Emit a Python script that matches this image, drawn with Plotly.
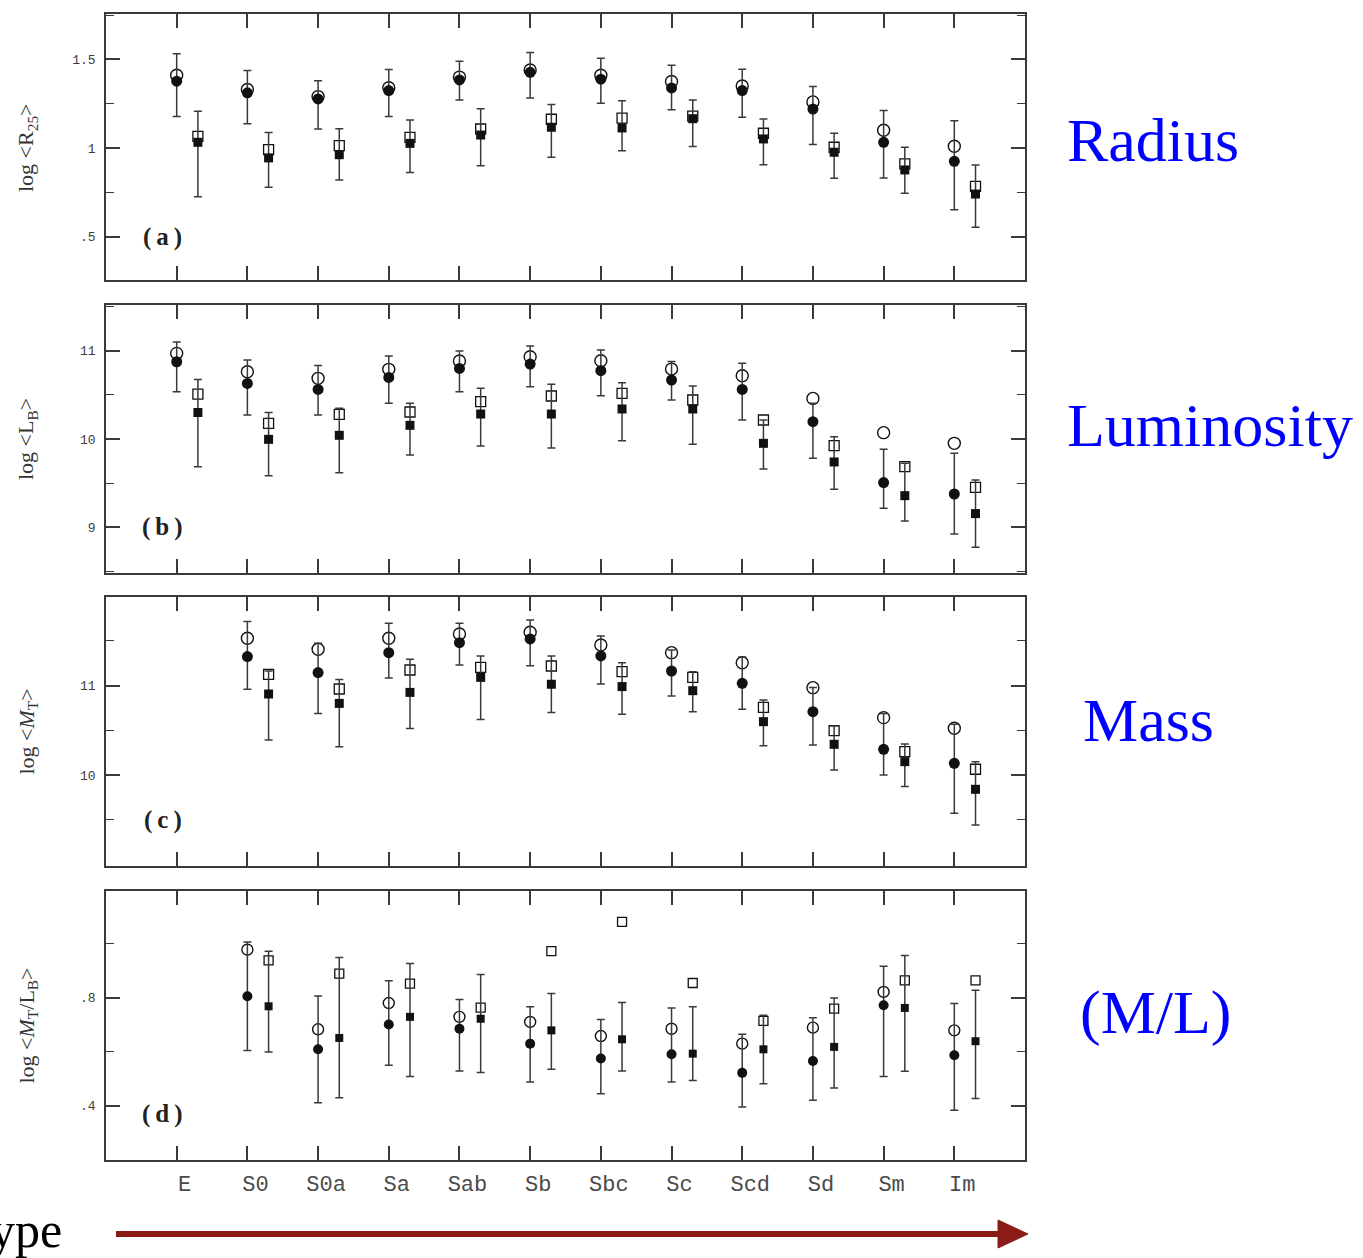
import plotly.graph_objects as go

W, H = 1363, 1258

categories = ["E", "S0", "S0a", "Sa", "Sab", "Sb", "Sbc", "Sc", "Scd", "Sd", "Sm", "Im"]

# Panel (a): log <R25>
circ_open_a = [1.41, 1.33, 1.29, 1.34, 1.40, 1.44, 1.41, 1.375, 1.35, 1.26, 1.10, 1.01]
circ_fill_a = [1.377, 1.311, 1.277, 1.324, 1.384, 1.427, 1.388, 1.339, 1.324, 1.22, 1.032, 0.925]
circ_hi_a = [1.531, 1.437, 1.38, 1.443, 1.49, 1.539, 1.507, 1.467, 1.444, 1.347, 1.211, 1.154]
circ_lo_a = [1.177, 1.136, 1.107, 1.177, 1.271, 1.282, 1.253, 1.215, 1.173, 1.019, 0.831, 0.652]
sq_open_a = [1.066, 0.991, 1.013, 1.06, 1.107, 1.162, 1.169, 1.18, 1.083, 1.004, 0.91, 0.783]
sq_fill_a = [1.032, 0.944, 0.962, 1.026, 1.073, 1.117, 1.113, 1.165, 1.051, 0.976, 0.876, 0.74]
sq_hi_a = [1.207, 1.087, 1.109, 1.158, 1.222, 1.245, 1.267, 1.271, 1.164, 1.083, 1.004, 0.904]
sq_lo_a = [0.725, 0.778, 0.819, 0.861, 0.90, 0.947, 0.985, 1.009, 0.906, 0.829, 0.744, 0.552]

# Panel (b): log <LB>
circ_open_b = [10.97, 10.762, 10.687, 10.789, 10.883, 10.932, 10.887, 10.792, 10.717, 10.46, 10.072, 9.951]
circ_fill_b = [10.875, 10.63, 10.562, 10.698, 10.80, 10.849, 10.774, 10.668, 10.562, 10.196, 9.506, 9.377]
circ_hi_b = [11.10, 10.894, 10.834, 10.94, 10.996, 11.053, 11.008, 10.879, 10.857, 10.404, 9.883, 9.838]
circ_lo_b = [10.536, 10.272, 10.272, 10.404, 10.536, 10.592, 10.49, 10.442, 10.215, 9.781, 9.215, 8.925]
sq_open_b = [10.509, 10.177, 10.279, 10.306, 10.423, 10.487, 10.517, 10.442, 10.215, 9.925, 9.687, 9.453]
sq_fill_b = [10.30, 9.996, 10.042, 10.155, 10.283, 10.283, 10.34, 10.34, 9.951, 9.74, 9.358, 9.155]
sq_hi_b = [10.675, 10.30, 10.347, 10.404, 10.574, 10.619, 10.638, 10.6, 10.215, 10.026, 9.725, 9.536]
sq_lo_b = [9.687, 9.585, 9.619, 9.819, 9.921, 9.898, 9.981, 9.94, 9.66, 9.43, 9.072, 8.774]

# Panel (c): log <MT>
circ_open_c = [None, 11.53, 11.407, 11.53, 11.578, 11.597, 11.455, 11.369, 11.257, 10.978, 10.643, 10.524]
circ_fill_c = [None, 11.325, 11.146, 11.369, 11.481, 11.522, 11.332, 11.164, 11.026, 10.71, 10.289, 10.133]
circ_hi_c = [None, 11.716, 11.474, 11.698, 11.698, 11.735, 11.555, 11.40, 11.32, 10.98, 10.69, 10.57]
circ_lo_c = [None, 10.959, 10.69, 11.086, 11.231, 11.224, 11.02, 10.885, 10.736, 10.337, 10.002, 9.574]
sq_open_c = [None, 11.127, 10.963, 11.175, 11.205, 11.22, 11.156, 11.093, 10.758, 10.497, 10.263, 10.066]
sq_fill_c = [None, 10.907, 10.802, 10.925, 11.093, 11.016, 10.99, 10.944, 10.598, 10.345, 10.151, 9.842]
sq_hi_c = [None, 11.164, 11.07, 11.295, 11.332, 11.332, 11.257, 11.156, 10.84, 10.55, 10.349, 10.151]
sq_lo_c = [None, 10.392, 10.317, 10.522, 10.623, 10.699, 10.68, 10.71, 10.33, 10.058, 9.872, 9.444]

# Panel (d): log <MT/LB>
circ_open_d = [None, 0.977, 0.683, 0.78, 0.729, 0.71, 0.658, 0.685, 0.63, 0.689, 0.821, 0.679]
circ_fill_d = [None, 0.805, 0.609, 0.701, 0.685, 0.63, 0.575, 0.591, 0.522, 0.566, 0.772, 0.587]
circ_hi_d = [None, 1.006, 0.806, 0.862, 0.793, 0.766, 0.719, 0.762, 0.665, 0.726, 0.916, 0.778]
circ_lo_d = [None, 0.605, 0.412, 0.55, 0.529, 0.488, 0.445, 0.488, 0.396, 0.421, 0.509, 0.384]
sq_open_d = [None, 0.938, 0.889, 0.852, 0.763, 0.972, 1.08, 0.854, 0.714, 0.759, 0.864, 0.864]
sq_fill_d = [None, 0.768, 0.651, 0.729, 0.722, 0.679, 0.646, 0.593, 0.609, 0.618, 0.762, 0.639]
sq_hi_d = [None, 0.971, 0.948, 0.926, 0.885, 0.815, 0.782, 0.766, 0.735, 0.799, 0.956, 0.827]
sq_lo_d = [None, 0.599, 0.43, 0.509, 0.523, 0.535, 0.529, 0.494, 0.482, 0.466, 0.528, 0.427]

panel_titles = ["log &lt;R<sub>25</sub>&gt;", "log &lt;L<sub>B</sub>&gt;",
                "log &lt;<i>M</i><sub>T</sub>&gt;", "log &lt;<i>M</i><sub>T</sub>/L<sub>B</sub>&gt;"]
panel_letters = ["(\u2009a\u2009)", "(\u2009b\u2009)", "(\u2009c\u2009)", "(\u2009d\u2009)"]
side_labels = ["Radius", "Luminosity", "Mass", "(M/L)"]

panels = [
    (circ_open_a, circ_fill_a, circ_hi_a, circ_lo_a, sq_open_a, sq_fill_a, sq_hi_a, sq_lo_a),
    (circ_open_b, circ_fill_b, circ_hi_b, circ_lo_b, sq_open_b, sq_fill_b, sq_hi_b, sq_lo_b),
    (circ_open_c, circ_fill_c, circ_hi_c, circ_lo_c, sq_open_c, sq_fill_c, sq_hi_c, sq_lo_c),
    (circ_open_d, circ_fill_d, circ_hi_d, circ_lo_d, sq_open_d, sq_fill_d, sq_hi_d, sq_lo_d),
]

# layout geometry (pixels)
x_left, x_right = 106, 1025
panel_px = [(14, 280), (305, 573), (597, 866), (891, 1160)]
y_ranges = [[0.255, 1.756], [8.482, 11.518], [8.985, 11.991], [0.2, 1.194]]
major_vals = [[0.5, 1, 1.5], [9, 10, 11], [10, 11], [0.4, 0.8]]
major_text = [[".5", "1", "1.5"], ["9", "10", "11"], ["10", "11"], [".4", ".8"]]
minor_vals = [[0.25, 0.75, 1.25, 1.75], [8.5, 9.5, 10.5, 11.5], [9.5, 10.5, 11.5], [0.2, 0.6, 1.0]]
letter_y = [0.5, 9.0, 9.5, 0.37]
side_y = [140, 425, 720, 1012]
side_x = [1065, 1065, 1081, 1078]

SQ_OFF = 0.3
AX_COLOR = "#3a3a3a"
MK = "#111111"
ERR = "#3a3a3a"


def px_x(p):
    return p / W


def px_y(p):
    return 1 - p / H


def errs(fill, hi, lo):
    plus, minus = [], []
    for f, h, l in zip(fill, hi, lo):
        if f is None:
            plus.append(None)
            minus.append(None)
        else:
            plus.append(h - f)
            minus.append(f - l)
    return plus, minus


fig = go.Figure()
layout = dict(
    width=W, height=H,
    margin=dict(l=0, r=0, t=0, b=0),
    paper_bgcolor="white", plot_bgcolor="white",
    showlegend=False,
)
annotations = []
shapes = []

xs = list(range(len(categories)))
xs_sq = [x + SQ_OFF for x in xs]

for i, data in enumerate(panels):
    n = i + 1
    xa = "x" if n == 1 else f"x{n}"
    ya = "y" if n == 1 else f"y{n}"
    co, cf, ch, cl, so, sf, sh, sl = data
    small = (n == 4)
    cs_open = 11 if small else 12
    cs_fill = 10 if small else 11
    ss_open = 9 if small else 10
    ss_fill = 8 if small else 9

    fig.add_trace(go.Scatter(x=xs, y=co, mode="markers", xaxis=xa, yaxis=ya,
                             marker=dict(symbol="circle-open", size=cs_open, color=MK, line=dict(width=1.4))))
    fig.add_trace(go.Scatter(x=xs_sq, y=so, mode="markers", xaxis=xa, yaxis=ya,
                             marker=dict(symbol="square-open", size=ss_open, color=MK, line=dict(width=1.3))))
    p, m = errs(cf, ch, cl)
    fig.add_trace(go.Scatter(x=xs, y=cf, mode="markers", xaxis=xa, yaxis=ya,
                             marker=dict(symbol="circle", size=cs_fill, color=MK),
                             error_y=dict(type="data", symmetric=False, array=p, arrayminus=m,
                                          color=ERR, thickness=1.5, width=4)))
    p, m = errs(sf, sh, sl)
    fig.add_trace(go.Scatter(x=xs_sq, y=sf, mode="markers", xaxis=xa, yaxis=ya,
                             marker=dict(symbol="square", size=ss_fill, color=MK),
                             error_y=dict(type="data", symmetric=False, array=p, arrayminus=m,
                                          color=ERR, thickness=1.5, width=4)))

    top, bot = panel_px[i]
    xkey = "xaxis" if n == 1 else f"xaxis{n}"
    ykey = "yaxis" if n == 1 else f"yaxis{n}"
    layout[xkey] = dict(
        domain=[px_x(x_left), px_x(x_right)], anchor=ya, range=[-1, 12],
        tickmode="array", tickvals=xs, ticktext=categories,
        showticklabels=(n == 4), ticks="inside", ticklen=14, tickwidth=1.5, tickcolor=AX_COLOR,
        showline=True, linecolor=AX_COLOR, linewidth=1.5, mirror="ticks",
        showgrid=False, zeroline=False,
        tickfont=dict(family="Liberation Mono", size=22, color="#4a4a4a"),
        ticklabelstandoff=3, ticklabelshift=8,
    )
    layout[ykey] = dict(
        domain=[px_y(bot), px_y(top)], anchor=xa, range=y_ranges[i],
        tickmode="array", tickvals=major_vals[i], ticktext=major_text[i],
        ticks="inside", ticklen=14, tickwidth=1.5, tickcolor=AX_COLOR,
        minor=dict(tickmode="array", tickvals=minor_vals[i], ticks="inside", ticklen=8,
                   tickwidth=1.2, tickcolor=AX_COLOR, showgrid=False),
        showline=True, linecolor=AX_COLOR, linewidth=1.5, mirror="ticks",
        showgrid=False, zeroline=False,
        tickfont=dict(family="Liberation Mono", size=13, color="#3c3c3c"),
        ticklabelstandoff=6,
    )
    # y-axis title as rotated text
    annotations.append(dict(
        text=panel_titles[i], xref="paper", yref="paper",
        x=px_x(27), y=px_y((top + bot) / 2), xanchor="center", yanchor="middle",
        textangle=-90, showarrow=False,
        font=dict(family="Liberation Serif", size=22, color="#333333"),
    ))
    # panel letter
    annotations.append(dict(
        text="<b>" + panel_letters[i] + "</b>", xref=xa, yref=ya,
        x=-0.2, y=letter_y[i], xanchor="center", yanchor="middle", showarrow=False,
        font=dict(family="Liberation Serif", size=25, color="#222222"),
    ))
    # side label
    annotations.append(dict(
        text=side_labels[i], xref="paper", yref="paper",
        x=px_x(side_x[i]), y=px_y(side_y[i]), xanchor="left", yanchor="middle",
        showarrow=False, font=dict(family="Liberation Serif", size=62, color="#0000ff"),
    ))

# "Type" label at lower-left (partially off-canvas as in the reference)
annotations.append(dict(
    text="Type", xref="paper", yref="paper", x=px_x(64), y=px_y(1230),
    xanchor="right", yanchor="middle", showarrow=False,
    font=dict(family="Liberation Serif", size=50, color="black"),
))

# arrow along the bottom
ARROW = "#8a1b17"
ay = 1234
shapes.append(dict(type="line", xref="paper", yref="paper",
                   x0=px_x(116), x1=px_x(1000), y0=px_y(ay), y1=px_y(ay),
                   line=dict(color=ARROW, width=6)))
path = (f"M {px_x(998)} {px_y(1220)} L {px_x(1028)} {px_y(ay)} "
        f"L {px_x(998)} {px_y(1248)} Z")
shapes.append(dict(type="path", xref="paper", yref="paper", path=path,
                   fillcolor=ARROW, line=dict(color=ARROW, width=1)))

layout["annotations"] = annotations
layout["shapes"] = shapes
fig.update_layout(**layout)

fig.write_html("out.html")
